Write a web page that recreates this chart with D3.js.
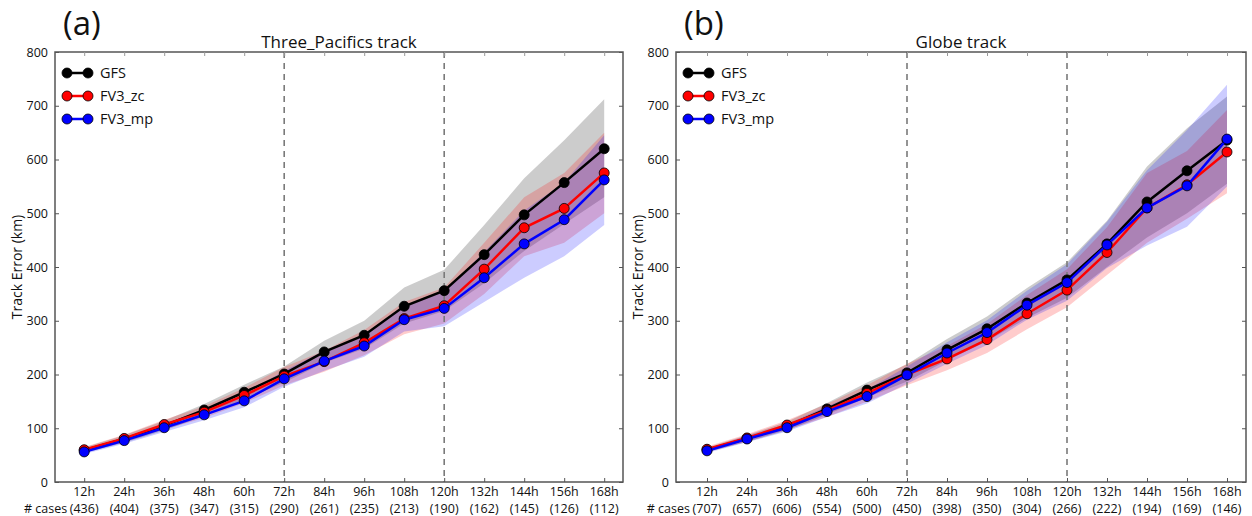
<!DOCTYPE html>
<html>
<head>
<meta charset="utf-8">
<script src="https://cdn.jsdelivr.net/npm/d3@7"></script>
<style>
  body { margin: 0; background: #fff; }
  text { font-family: "Open Sans", sans-serif; fill: #111; }
</style>
</head>
<body>
<svg width="1252" height="516"></svg>
<script>
var hours = ["12h", "24h", "36h", "48h", "60h", "72h", "84h", "96h", "108h", "120h", "132h", "144h", "156h", "168h"];
var casesPacific = [436, 404, 375, 347, 315, 290, 261, 235, 213, 190, 162, 145, 126, 112];
var casesGlobe = [707, 657, 606, 554, 500, 450, 398, 350, 304, 266, 222, 194, 169, 146];

// (a) Three_Pacifics
var pacGFS = [59, 80, 105, 134, 167, 201, 242, 273, 327, 356, 423, 497, 557, 620];
var pacZC = [60, 81, 107, 130, 161, 197, 224, 259, 304, 328, 396, 473, 509, 575];
var pacMP = [56, 77, 101, 125, 151, 192, 225, 253, 302, 323, 380, 443, 488, 562];
var pacGFSlo = [54, 73, 96, 123, 153, 185, 222, 248, 295, 318, 370, 430, 480, 530];
var pacGFShi = [64, 87, 114, 145, 181, 215, 263, 300, 362, 395, 478, 565, 636, 712];
var pacZClo = [55, 74, 98, 119, 147, 180, 205, 236, 275, 295, 350, 420, 445, 500];
var pacZChi = [65, 88, 116, 141, 175, 214, 244, 283, 335, 362, 445, 530, 575, 650];
var pacMPlo = [52, 71, 93, 115, 139, 177, 207, 233, 280, 290, 335, 380, 420, 478];
var pacMPhi = [60, 83, 109, 135, 163, 207, 244, 274, 325, 355, 428, 505, 557, 645];

// (b) Globe
var glbGFS = [60, 81, 104, 136, 171, 203, 246, 285, 333, 376, 443, 521, 579, 636];
var glbZC = [61, 82, 106, 133, 165, 200, 229, 265, 313, 357, 427, 510, 553, 614];
var glbMP = [58, 80, 101, 131, 159, 199, 240, 278, 329, 371, 441, 510, 551, 638];
var glbGFSlo = [56, 75, 96, 125, 157, 187, 226, 262, 305, 343, 400, 455, 500, 555];
var glbGFShi = [64, 87, 112, 147, 185, 219, 266, 308, 361, 409, 486, 587, 658, 717];
var glbZClo = [56, 75, 97, 121, 150, 180, 208, 240, 284, 325, 385, 445, 490, 537];
var glbZChi = [66, 89, 115, 145, 180, 220, 253, 294, 348, 396, 474, 575, 616, 692];
var glbMPlo = [54, 74, 94, 121, 146, 183, 220, 255, 302, 337, 398, 440, 475, 550];
var glbMPhi = [62, 86, 108, 141, 172, 215, 260, 301, 356, 405, 484, 580, 655, 739];

var yTicks = [0, 100, 200, 300, 400, 500, 600, 700, 800];
var names = ["GFS", "FV3_zc", "FV3_mp"];
var colors = ["#000000", "#ff0000", "#0000ff"];

var svg = d3.select("svg");

function panel(o) {
    var x = d3.scaleLinear().domain(o.xdom).range([o.left, o.right]);
    var y = d3.scaleLinear().domain([0, 800]).range([482, 52]);
    var g = svg.append("g");

    // bands
    o.series.forEach(function (s, k) {
        var area = d3.area()
            .x(function (d, i) { return x(i + 1); })
            .y0(function (d, i) { return y(s.lo[i]); })
            .y1(function (d, i) { return y(s.hi[i]); });
        g.append("path")
            .datum(s.v)
            .attr("d", area)
            .attr("fill", colors[k])
            .attr("fill-opacity", 0.2);
    });

    // dashed verticals at 72h and 120h
    [6, 10].forEach(function (i) {
        g.append("line")
            .attr("x1", x(i)).attr("x2", x(i))
            .attr("y1", y(800)).attr("y2", y(0))
            .attr("stroke", "#7a7a7a")
            .attr("stroke-width", 1.6)
            .attr("stroke-dasharray", "6,5");
    });

    // lines + markers
    o.series.forEach(function (s, k) {
        var line = d3.line()
            .x(function (d, i) { return x(i + 1); })
            .y(function (d) { return y(d); });
        g.append("path")
            .datum(s.v)
            .attr("d", line)
            .attr("fill", "none")
            .attr("stroke", colors[k])
            .attr("stroke-width", 2.5);
        g.selectAll(null)
            .data(s.v)
            .enter().append("circle")
            .attr("cx", function (d, i) { return x(i + 1); })
            .attr("cy", function (d) { return y(d); })
            .attr("r", 5)
            .attr("fill", colors[k])
            .attr("stroke", "#000")
            .attr("stroke-width", 0.8);
    });

    // frame
    g.append("rect")
        .attr("x", o.left).attr("y", y(800))
        .attr("width", o.right - o.left).attr("height", y(0) - y(800))
        .attr("fill", "none")
        .attr("stroke", "#555")
        .attr("stroke-width", 1.5);

    // y ticks inside, both sides
    var ya = g.append("g").attr("transform", "translate(" + o.left + ",0)")
        .call(d3.axisLeft(y).tickValues(yTicks).tickSize(-4).tickPadding(7).tickFormat(d3.format("d")));
    ya.select(".domain").remove();
    ya.selectAll("line").attr("stroke", "#555");
    ya.selectAll("text").style("font-size", "12.5px").attr("fill", "#111");
    var yr = g.append("g").attr("transform", "translate(" + o.right + ",0)")
        .call(d3.axisRight(y).tickValues(yTicks).tickSize(-4).tickFormat(""));
    yr.select(".domain").remove();
    yr.selectAll("line").attr("stroke", "#555");

    // x ticks inside, bottom and top
    var xv = d3.range(1, 15);
    var xb = g.append("g").attr("transform", "translate(0," + y(0) + ")")
        .call(d3.axisBottom(x).tickValues(xv).tickSize(-4).tickFormat(""));
    xb.select(".domain").remove();
    xb.selectAll("line").attr("stroke", "#555");
    var xt = g.append("g").attr("transform", "translate(0," + y(800) + ")")
        .call(d3.axisTop(x).tickValues(xv).tickSize(-4).tickFormat(""));
    xt.select(".domain").remove();
    xt.selectAll("line").attr("stroke", "#999");

    // x labels, two rows
    g.selectAll(null).data(hours).enter().append("text")
        .attr("x", function (d, i) { return x(i + 1); })
        .attr("y", 496)
        .attr("text-anchor", "middle")
        .style("font-size", "12.5px")
        .text(function (d) { return d; });
    g.selectAll(null).data(o.cases).enter().append("text")
        .attr("x", function (d, i) { return x(i + 1); })
        .attr("y", 513)
        .attr("text-anchor", "middle")
        .style("font-size", "12.5px")
        .text(function (d) { return "(" + d + ")"; });
    g.append("text")
        .attr("x", x(1) - 17).attr("y", 513)
        .attr("text-anchor", "end")
        .style("font-size", "12.5px")
        .text("# cases");

    // axis title
    g.append("text")
        .attr("transform", "translate(" + (o.left - 33) + "," + 267 + ") rotate(-90)")
        .attr("text-anchor", "middle")
        .style("font-size", "14px")
        .text("Track Error (km)");

    // titles
    g.append("text")
        .attr("x", (o.left + o.right) / 2).attr("y", 48)
        .attr("text-anchor", "middle")
        .style("font-size", "17px")
        .text(o.title);
    g.append("text")
        .attr("x", o.left + 8).attr("y", 35)
        .style("font-size", "33px")
        .text(o.tag);

    // legend
    var lg = g.append("g").attr("transform", "translate(" + (o.left + 12) + ",0)");
    names.forEach(function (n, k) {
        var ly = 73 + k * 23;
        lg.append("line")
            .attr("x1", 0).attr("x2", 21).attr("y1", ly).attr("y2", ly)
            .attr("stroke", colors[k]).attr("stroke-width", 2.5);
        [0, 21].forEach(function (cx) {
            lg.append("circle")
                .attr("cx", cx).attr("cy", ly).attr("r", 5)
                .attr("fill", colors[k]).attr("stroke", "#000").attr("stroke-width", 0.8);
        });
        lg.append("text")
            .attr("x", 33).attr("y", ly + 5)
            .style("font-size", "14.5px")
            .text(n);
    });
}

panel({
    left: 55, right: 623, xdom: [0.27, 14.47],
    title: "Three_Pacifics track", tag: "(a)", cases: casesPacific,
    series: [
        { v: pacGFS, lo: pacGFSlo, hi: pacGFShi },
        { v: pacZC, lo: pacZClo, hi: pacZChi },
        { v: pacMP, lo: pacMPlo, hi: pacMPhi }
    ]
});

panel({
    left: 676, right: 1246, xdom: [0.225, 14.475],
    title: "Globe track", tag: "(b)", cases: casesGlobe,
    series: [
        { v: glbGFS, lo: glbGFSlo, hi: glbGFShi },
        { v: glbZC, lo: glbZClo, hi: glbZChi },
        { v: glbMP, lo: glbMPlo, hi: glbMPhi }
    ]
});
</script>
</body>
</html>
